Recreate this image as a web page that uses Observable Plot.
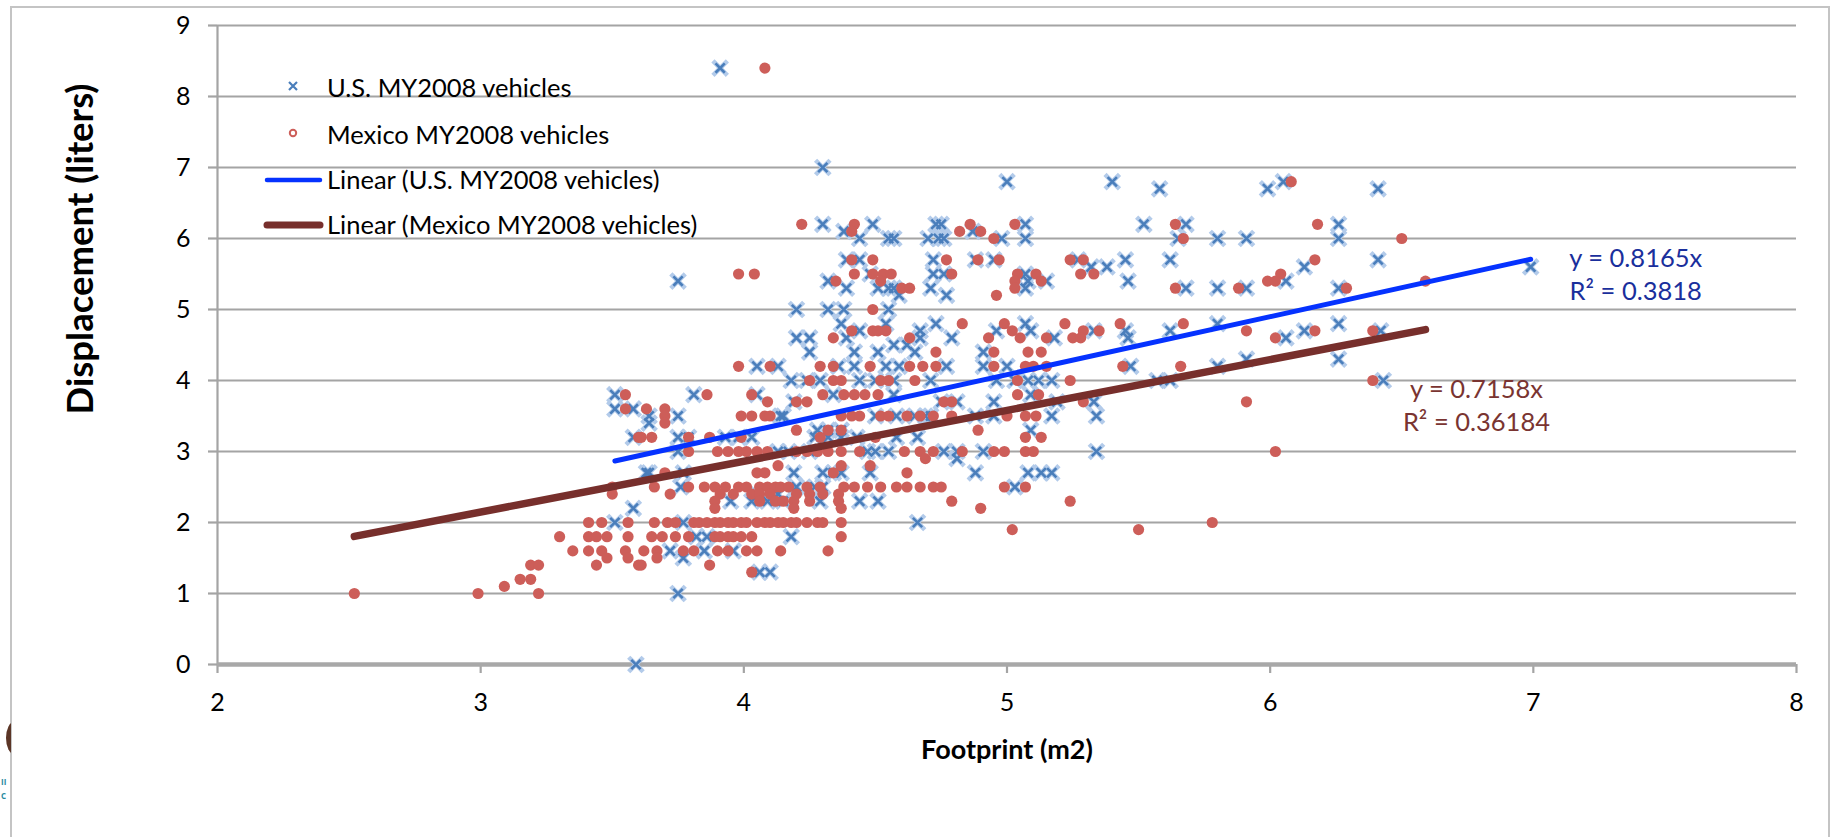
<!DOCTYPE html>
<html>
<head>
<meta charset="utf-8">
<script src="https://cdn.jsdelivr.net/npm/d3@7"></script>
<script src="https://cdn.jsdelivr.net/npm/@observablehq/plot@0.6"></script>
<style>
  html, body { margin: 0; padding: 0; background: #fff; }
  #wrap { position: relative; width: 1843px; height: 837px; overflow: hidden; font-family: Lato, "Open Sans", sans-serif; }
  #chart { position: absolute; left: 0; top: 0; }
  .ov { position: absolute; white-space: nowrap; }
</style>
</head>
<body>
<div id="wrap">
  <div id="chart"></div>
</div>
<script>
// ---------- data ----------
const xTicks = [2, 3, 4, 5, 6, 7, 8];
const yTicks = [0, 1, 2, 3, 4, 5, 6, 7, 8, 9];
const seriesNames = ["U.S. MY2008 vehicles", "Mexico MY2008 vehicles"];
const trendNames = ["Linear (U.S. MY2008 vehicles)", "Linear (Mexico MY2008 vehicles)"];
const trendSlopes = [0.8165, 0.7158];
const trendSlopeLabels = ["0.8165", "0.7158"];
const trendR2Labels = ["0.3818", "0.36184"];

// U.S. vehicles: [displacement (liters), [footprints (m2)...]]
const usByDisplacement = [
  [8.4, [3.91]],
  [7.0, [4.30]],
  [6.8, [5.00, 5.40, 6.05]],
  [6.7, [5.58, 5.99, 6.41]],
  [6.2, [4.30, 4.49, 4.73, 4.75, 5.07, 5.52, 5.68, 6.26]],
  [6.1, [4.38, 4.87]],
  [6.0, [4.44, 4.55, 4.57, 4.70, 4.74, 4.76, 4.98, 5.07, 5.65, 5.80, 5.91, 6.26]],
  [5.7, [4.39, 4.44, 4.72, 4.88, 4.95, 5.27, 5.45, 5.62, 6.41]],
  [5.6, [5.32, 5.38, 6.13, 6.99]],
  [5.5, [4.48, 4.72, 4.76, 5.07]],
  [5.4, [3.75, 4.32, 5.08, 5.15, 5.46, 6.06]],
  [5.3, [4.39, 4.51, 4.55, 4.57, 4.71, 5.07, 5.68, 5.80, 5.91, 6.26]],
  [5.2, [4.59, 4.77]],
  [5.0, [4.20, 4.32, 4.38, 4.55]],
  [4.8, [4.37, 4.54, 4.73, 5.07, 5.80, 6.26]],
  [4.7, [4.44, 4.67, 4.96, 5.09, 5.33, 5.45, 5.62, 6.13, 6.42]],
  [4.6, [4.20, 4.25, 4.39, 4.67, 4.79, 5.18, 5.46, 6.06]],
  [4.5, [4.57, 4.62]],
  [4.4, [4.25, 4.42, 4.51, 4.65, 4.91]],
  [4.3, [5.91, 6.26]],
  [4.2, [4.05, 4.13, 4.36, 4.42, 4.54, 4.59, 4.77, 4.91, 5.00, 5.47, 5.80]],
  [4.0, [4.18, 4.24, 4.29, 4.44, 4.50, 4.57, 4.71, 4.96, 5.03, 5.08, 5.12, 5.17, 5.57, 5.62, 6.43]],
  [3.8, [3.51, 3.81, 4.05, 4.34, 4.57, 5.09]],
  [3.7, [4.19, 4.75, 4.81, 4.95, 5.19, 5.33]],
  [3.6, [3.51, 3.58]],
  [3.5, [3.64, 3.75, 4.14, 4.15, 4.50, 4.58, 4.65, 4.69, 4.71, 4.88, 4.95, 5.17, 5.34]],
  [3.4, [3.64]],
  [3.3, [4.28, 4.32, 4.37, 5.09]],
  [3.2, [3.58, 3.75, 3.79, 3.93, 3.98, 4.03, 4.27, 4.32, 4.37, 4.43, 4.58, 4.66]],
  [3.0, [3.75, 4.13, 4.17, 4.25, 4.47, 4.50, 4.55, 4.76, 4.81, 4.91, 5.34]],
  [2.9, [4.81]],
  [2.7, [3.63, 3.64, 3.77, 4.19, 4.30, 4.34, 4.37, 4.48, 4.88, 5.08, 5.13, 5.17]],
  [2.5, [3.76, 4.20, 4.27, 4.30, 5.03]],
  [2.4, [4.05, 4.13]],
  [2.3, [3.95, 4.03, 4.09, 4.15, 4.29, 4.44, 4.51]],
  [2.2, [3.58]],
  [2.0, [3.51, 3.77, 4.66]],
  [1.8, [3.82, 3.86, 4.18]],
  [1.6, [3.72, 3.85, 3.96]],
  [1.5, [3.77]],
  [1.3, [4.06, 4.10]],
  [1.0, [3.75]],
  [0.0, [3.59]]
];

// Mexico vehicles: [displacement (liters), [footprints (m2)...]]
const mexByDisplacement = [
  [8.4, [4.08]],
  [6.8, [6.08]],
  [6.2, [4.22, 4.42, 4.86, 5.03, 5.64, 6.18]],
  [6.1, [4.41, 4.82, 4.90]],
  [6.0, [4.95, 5.67, 6.50]],
  [5.7, [4.41, 4.49, 4.77, 4.89, 4.97, 5.24, 5.29, 6.17]],
  [5.5, [3.98, 4.04, 4.42, 4.49, 4.53, 4.56, 4.79, 5.04, 5.11, 5.28, 5.33, 6.04]],
  [5.4, [4.35, 4.52, 5.03, 5.13, 5.99, 6.02, 6.59]],
  [5.3, [4.60, 4.63, 5.03, 5.64, 5.88, 6.29]],
  [5.2, [4.96]],
  [5.0, [4.49]],
  [4.8, [4.83, 4.99, 5.22, 5.43, 5.67]],
  [4.7, [4.41, 4.49, 4.51, 4.54, 5.02, 5.29, 5.35, 5.91, 6.17, 6.39]],
  [4.6, [4.34, 4.63, 4.93, 5.05, 5.15, 5.25, 5.28, 6.02]],
  [4.4, [4.73, 4.95, 5.08, 5.13]],
  [4.2, [3.98, 4.10, 4.29, 4.34, 4.48, 4.63, 4.68, 4.73, 4.95, 5.07, 5.10, 5.15, 5.44, 5.66]],
  [4.0, [4.25, 4.34, 4.37, 4.52, 4.55, 4.65, 5.04, 5.24, 6.39]],
  [3.8, [3.55, 3.86, 4.03, 4.30, 4.38, 4.42, 4.46, 4.51, 5.04, 5.12]],
  [3.7, [4.09, 4.20, 4.24, 4.76, 4.79, 5.29, 5.91]],
  [3.6, [3.55, 3.63, 3.70]],
  [3.5, [3.70, 3.99, 4.03, 4.08, 4.10, 4.37, 4.41, 4.44, 4.52, 4.55, 4.62, 4.67, 4.72, 4.79, 5.00, 5.07, 5.11]],
  [3.4, [3.70]],
  [3.3, [4.20, 4.32, 4.37, 4.89]],
  [3.2, [3.60, 3.61, 3.65, 3.79, 3.87, 3.99, 4.29, 4.50, 5.07, 5.13]],
  [3.0, [3.79, 3.90, 3.94, 3.98, 4.01, 4.05, 4.09, 4.20, 4.24, 4.28, 4.32, 4.37, 4.44, 4.61, 4.67, 4.72, 4.83, 4.95, 4.99, 5.07, 5.10, 6.02]],
  [2.9, [4.69]],
  [2.8, [4.13, 4.37, 4.48]],
  [2.7, [3.70, 4.05, 4.08, 4.34, 4.62]],
  [2.5, [3.50, 3.66, 3.79, 3.85, 3.89, 3.93, 3.98, 4.01, 4.06, 4.09, 4.12, 4.14, 4.17, 4.24, 4.29, 4.38, 4.42, 4.47, 4.52, 4.58, 4.62, 4.67, 4.72, 4.75, 4.99, 5.07]],
  [2.4, [3.50, 3.72, 3.91, 3.96, 4.03, 4.06, 4.10, 4.20, 4.25, 4.30, 4.36]],
  [2.3, [3.89, 4.06, 4.12, 4.15, 4.19, 4.25, 4.36, 4.79, 5.24]],
  [2.2, [3.89, 4.19, 4.37, 4.90]],
  [2.0, [3.41, 3.46, 3.56, 3.66, 3.71, 3.74, 3.81, 3.83, 3.86, 3.89, 3.91, 3.94, 3.96, 3.99, 4.01, 4.05, 4.08, 4.10, 4.13, 4.15, 4.18, 4.20, 4.24, 4.28, 4.30, 4.37, 5.78]],
  [1.9, [5.02, 5.50]],
  [1.8, [3.30, 3.41, 3.44, 3.48, 3.56, 3.65, 3.69, 3.74, 3.79, 3.89, 3.91, 3.94, 3.96, 3.99, 4.03, 4.37]],
  [1.6, [3.35, 3.41, 3.46, 3.55, 3.62, 3.67, 3.77, 3.81, 3.90, 3.94, 4.01, 4.05, 4.14, 4.32]],
  [1.5, [3.48, 3.56, 3.67]],
  [1.4, [3.19, 3.22, 3.44, 3.60, 3.61, 3.87]],
  [1.3, [4.03]],
  [1.2, [3.15, 3.19]],
  [1.1, [3.09]],
  [1.0, [2.52, 2.99, 3.22]]
];

// ---------- build ----------
const flatten = rows => rows.flatMap(([y, xs]) => xs.map(x => ({x, y})));
const us = flatten(usByDisplacement);
const mex = flatten(mexByDisplacement);
const trend = (pts, k) => d3.extent(pts, d => d.x).map(x => ({x, y: k * x}));
const usTrend = trend(us, trendSlopes[0]);
const mexTrend = trend(mex, trendSlopes[1]);

const GRID = "#a4a4a4";
const US_DARK = "#4a7ebb", US_LIGHT = "#b3cbea";
const MEX_RED = "#cd5e59";
const US_LINE = "#0532ff", MEX_LINE = "#772f2c";
const US_TXT = "#1a2f9c", MEX_TXT = "#7a3431";

const chart = Plot.plot({
  width: 1843,
  height: 837,
  marginLeft: 217,
  marginRight: 47,
  marginTop: 25,
  marginBottom: 173,
  x: {domain: [2, 8]},
  y: {domain: [0, 9]},
  style: {fontFamily: "Lato, sans-serif", fontSize: "25px", color: "#000", background: "transparent", overflow: "visible"},
  marks: [
    Plot.gridY(yTicks, {stroke: GRID, strokeOpacity: 1, strokeWidth: 2.2}),
    Plot.axisY(yTicks, {tickSize: 9, tickPadding: 18, stroke: GRID, strokeWidth: 2.2, strokeOpacity: 1, tickFormat: d => d, label: null, fontSize: 25}),
    Plot.axisX(xTicks, {tickSize: 9, tickPadding: 20, stroke: GRID, strokeWidth: 2.2, strokeOpacity: 1, tickFormat: d => d, label: null, fontSize: 25}),
    Plot.ruleX([2], {stroke: GRID, strokeWidth: 2.2}),
    Plot.ruleY([0], {stroke: "#a8a8a8", strokeWidth: 4.5}),
    Plot.dot(us, {x: "x", y: "y", symbol: "times", r: 5.2, stroke: US_LIGHT, strokeWidth: 4.5, strokeLinecap: "square"}),
    Plot.dot(us, {x: "x", y: "y", symbol: "times", r: 4.3, stroke: US_DARK, strokeWidth: 2.6}),
    Plot.dot(mex, {x: "x", y: "y", r: 5.6, fill: MEX_RED}),
    Plot.line(usTrend, {x: "x", y: "y", stroke: US_LINE, strokeWidth: 5, strokeLinecap: "round"}),
    Plot.line(mexTrend, {x: "x", y: "y", stroke: MEX_LINE, strokeWidth: 7.5, strokeLinecap: "round"}),
    Plot.text([usTrend[1]], {x: "x", y: "y", text: () => `y = ${trendSlopeLabels[0]}x\nR² = ${trendR2Labels[0]}`,
      dx: 105, dy: 14, fill: US_TXT, fontSize: 25.5, lineHeight: 1.3, textAnchor: "middle"}),
    Plot.text([mexTrend[1]], {x: "x", y: "y", text: () => `y = ${trendSlopeLabels[1]}x\nR² = ${trendR2Labels[1]}`,
      dx: 51, dy: 74, fill: MEX_TXT, fontSize: 25.5, lineHeight: 1.3, textAnchor: "middle"})
  ]
});
document.getElementById("chart").appendChild(chart);

// ---------- overlays: border, titles, legend ----------
const wrap = d3.select("#wrap");

// outer chart border
wrap.append("div").attr("class", "ov")
  .style("left", "10px").style("top", "6px").style("width", "1820px").style("height", "1000px")
  .style("border", "2px solid #c4c4c4").style("box-sizing", "border-box");

// slide artifacts at the far left
wrap.append("div").attr("class", "ov")
  .style("left", "0px").style("top", "722px").style("width", "11px").style("height", "34px").style("overflow", "hidden")
  .append("div").style("position", "absolute").style("left", "6px").style("top", "0px")
  .style("width", "16px").style("height", "32px").style("border-radius", "50%").style("background", "#5b3526");
wrap.append("div").attr("class", "ov")
  .style("left", "1px").style("top", "775px")
  .style("font", "bold 8px 'Open Sans'").style("color", "#2a8aa0").style("line-height", "14px")
  .html("II<br>C");

// axis titles
wrap.append("div").attr("class", "ov")
  .style("left", "79px").style("top", "249px")
  .style("transform", "translate(-50%,-50%) rotate(-90deg)")
  .style("font", "bold 36.5px Lato").style("color", "#000")
  .text("Displacement (liters)");
wrap.append("div").attr("class", "ov")
  .style("left", "1007px").style("top", "748px")
  .style("transform", "translate(-50%,-50%)")
  .style("font", "bold 27px Lato").style("color", "#000")
  .text("Footprint (m2)");

// legend
const lg = wrap.append("svg").attr("class", "ov")
  .style("left", "0px").style("top", "0px").attr("width", 700).attr("height", 260);
const rows = [88, 135, 180, 225];
lg.append("path").attr("d", "M289,82L297,90M297,82L289,90").attr("stroke", US_DARK).attr("stroke-width", 2.2);
lg.append("circle").attr("cx", 293).attr("cy", 133).attr("r", 3.2).attr("fill", "none").attr("stroke", MEX_RED).attr("stroke-width", 2);
lg.append("line").attr("x1", 267).attr("x2", 320).attr("y1", 180).attr("y2", 180)
  .attr("stroke", US_LINE).attr("stroke-width", 4.5).attr("stroke-linecap", "round");
lg.append("line").attr("x1", 267).attr("x2", 320).attr("y1", 225).attr("y2", 225)
  .attr("stroke", MEX_LINE).attr("stroke-width", 7).attr("stroke-linecap", "round");
const labels = [seriesNames[0], seriesNames[1], trendNames[0], trendNames[1]];
labels.forEach((t, i) => {
  lg.append("text").attr("x", 327).attr("y", rows[i]).attr("dy", "0.35em")
    .attr("font-family", "Lato").attr("font-size", 25.5).attr("fill", "#000").text(t);
});
</script>
</body>
</html>
